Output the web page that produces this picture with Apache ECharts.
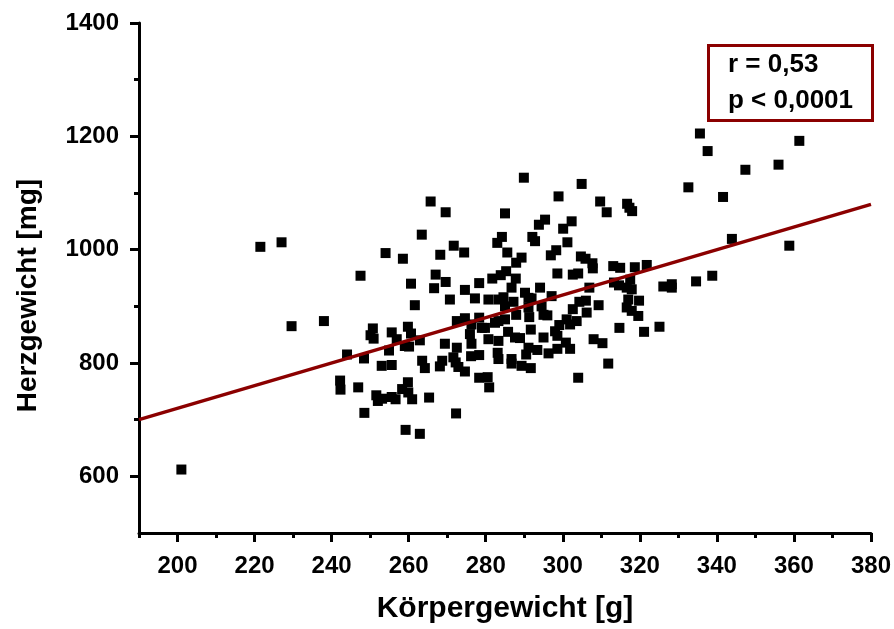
<!DOCTYPE html>
<html>
<head>
<meta charset="utf-8">
<script src="https://cdn.jsdelivr.net/npm/echarts@6/dist/echarts.min.js"></script>
<style>
html,body{margin:0;padding:0;background:#fff;}
#chart{width:894px;height:629px;}
</style>
</head>
<body>
<div id="chart"></div>
<script>
// Körpergewicht [g]
var bodyWeight = [201,221.5,227,229.6,238,244,242.2,242.3,246.9,247.5,248.4,248.5,250.7,250.1,250.9,251.6,252,253.1,253,255.6,254,254.9,255.6,256.9,255.6,256.6,258.5,258.3,259.9,259.8,260.6,259,260.1,259.8,259.2,260.6,260.9,261.6,262.9,262.9,263.4,263.5,264.2,265.3,265.7,266.6,267,268.1,268.7,268.2,269.4,269.6,269.6,270.7,271.6,271.7,272.2,272.5,272.3,272.5,272.9,274.4,274.6,274.6,274.6,275.9,276.3,276.3,276.2,277.2,278.3,278.3,278.3,278.3,279,279.8,280.5,280.7,280.7,280.9,281.7,282.4,283,283.3,283.3,283.3,283.1,283.3,283.9,284.2,285.3,284.6,285,285.6,285,285,285.8,286.7,286.7,286.7,287.2,287.8,287.9,287.9,287.6,288.9,289.3,289.3,289.9,290.2,290.5,291.1,291.9,291.1,291.3,291.7,291.1,291.7,292.1,292.8,293.4,293.8,294.1,294.5,295,296,295,295.4,296.3,296.9,297.1,298,298.6,298.6,298.3,298.6,298.9,299.1,300.1,300.8,301,301.2,301.9,301.9,302.3,302.6,302.6,303.6,304,304,304.3,304.7,304.9,305.9,306,306.2,306.9,307.7,307.8,308,309.3,309.7,310.3,311.4,311.8,313.1,313.3,314.6,314.9,314.7,316.6,316.6,316.7,317.3,318,317.5,317.9,317.9,317,318.7,319.6,319.8,321.1,321.8,325.1,326.1,328.3,328.3,332.6,334.6,335.6,337.6,338.8,341.6,343.9,347.4,356,358.8,361.4];
// Herzgewicht [mg]
var heartWeight = [612,1005,1013,865,874,815,769,753,757,954,808,712,861,849,843,743,733,737,795,796.5,994,822,854,842,740,736,984,754,748,864,852,830,829,766,682,940,736,902,840,675,1026.5,804,791,739,1085,932,956,794,804,991,834,1066,943,912,810,1007,801,827,711,874,793,995,929,879,785,851,868,834,812,914,941,880,814,774,862,862,775,912,842,757,949,871,1012,912,874,839,818,807,955,1022.5,962,916,1064,995,900,877,855,933,807,799,908,949,977,885,845,844,986,795,1127,924,815,915,914,898,881,859,827,791,1022.5,1015,823,1044,933,900,885,884,845,1053,817,990,918,856,848,825,999,958,1094,867,1037,836,877,1013,868,825,1050,956,895,874,958,774,908,988,1116,984,910,889,933,976,967,842,902,1085,835,1066,799,971,942,937,968,862,898,933,1081,1074,1068,947,930,892,912,969,883,910,855,973,864,935,939,933,1110,944,1205,1174,954,1093,1019,1141,1150,1007,1192];
// Regression line endpoints
var fitX = [190, 380];
var fitY = [700, 1080];
// Tick labels
var xMajorTicks = [200,220,240,260,280,300,320,340,360,380];
var xMinorTicks = [190,210,230,250,270,290,310,330,350,370];
var yMajorTicks = [600,800,1000,1200,1400];
var yMinorTicks = [700,900,1100,1300];
var statsText = ['r = 0,53', 'p < 0,0001'];

var points = bodyWeight.map(function(v, i){ return [v, heartWeight[i]]; });
var fitLine = fitX.map(function(v, i){ return [v, fitY[i]]; });

var FONT = '"Liberation Sans", Arial, sans-serif';
var DARKRED = '#8b0000';
function plain(v){ return String(v); }

var chart = echarts.init(document.getElementById('chart'), null, {renderer:'canvas'});
chart.setOption({
  animation: false,
  backgroundColor: '#fff',
  title: {
    text: statsText.join('\n'),
    left: 708, top: 45,
    padding: [2, 20, 2, 20],
    borderColor: DARKRED,
    borderWidth: 3,
    textStyle: {fontFamily: FONT, fontWeight: 'bold', fontSize: 26, lineHeight: 36, color: '#000'}
  },
  grid: {left: 139, right: 23, top: 23, bottom: 95},
  xAxis: [{
    type: 'value', min: 190, max: 380, position: 'bottom',
    name: 'Körpergewicht [g]', nameLocation: 'middle', nameGap: 61,
    nameTextStyle: {fontFamily: FONT, fontWeight: 'bold', fontSize: 30, color: '#000'},
    axisLine: {show: true, onZero: false, lineStyle: {color: '#000', width: 3}},
    axisTick: {show: true, customValues: xMajorTicks, length: 9, lineStyle: {color: '#000', width: 3}},
    axisLabel: {customValues: xMajorTicks, formatter: plain, margin: 21, fontFamily: FONT, fontWeight: 'bold', fontSize: 24, color: '#000'},
    splitLine: {show: false}
  }, {
    type: 'value', min: 190, max: 380, position: 'bottom', gridIndex: 0,
    axisLine: {show: false},
    axisTick: {show: true, customValues: xMinorTicks, length: 5, lineStyle: {color: '#000', width: 3}},
    axisLabel: {show: false},
    splitLine: {show: false}
  }],
  yAxis: [{
    type: 'value', min: 500, max: 1400, position: 'left',
    name: 'Herzgewicht [mg]', nameLocation: 'middle', nameGap: 97, nameRotate: 90,
    nameTextStyle: {fontFamily: FONT, fontWeight: 'bold', fontSize: 28, color: '#000', padding: [0, 35, 0, 0]},
    axisLine: {show: true, onZero: false, lineStyle: {color: '#000', width: 3}},
    axisTick: {show: true, customValues: yMajorTicks, length: 9, lineStyle: {color: '#000', width: 3}},
    axisLabel: {customValues: yMajorTicks, formatter: plain, margin: 20, fontFamily: FONT, fontWeight: 'bold', fontSize: 24, color: '#000'},
    splitLine: {show: false}
  }, {
    type: 'value', min: 500, max: 1400, position: 'left', gridIndex: 0,
    axisLine: {show: false},
    axisTick: {show: true, customValues: yMinorTicks, length: 5, lineStyle: {color: '#000', width: 3}},
    axisLabel: {show: false},
    splitLine: {show: false}
  }],
  series: [{
    type: 'scatter', xAxisIndex: 0, yAxisIndex: 0,
    symbol: 'rect', symbolSize: 10,
    itemStyle: {color: '#000', opacity: 1},
    data: points, z: 3
  }, {
    type: 'line', xAxisIndex: 0, yAxisIndex: 0,
    data: fitLine, symbol: 'none',
    lineStyle: {color: DARKRED, width: 3.5},
    z: 4
  }]
});
</script>
</body>
</html>
